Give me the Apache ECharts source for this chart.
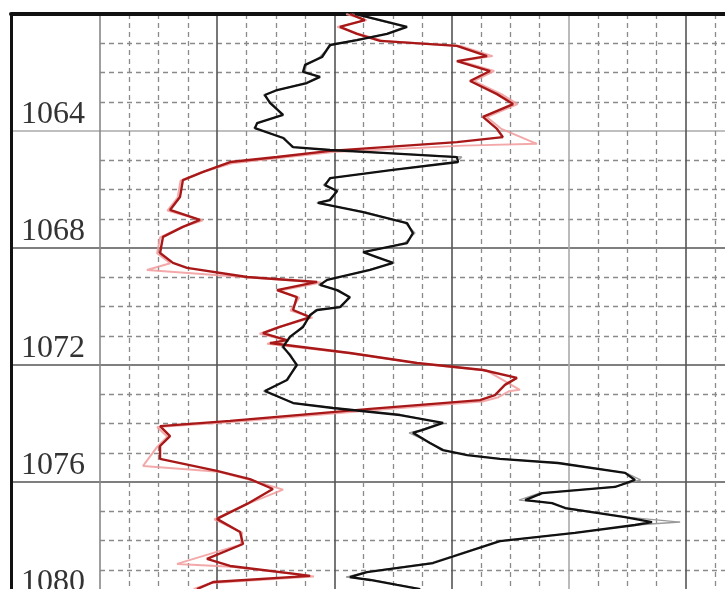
<!DOCTYPE html>
<html>
<head>
<meta charset="utf-8">
<script src="https://cdn.jsdelivr.net/npm/echarts@6/dist/echarts.min.js"></script>
<style>
html,body{margin:0;padding:0;background:#fff;}
#c{width:725px;height:589px;}
</style>
</head>
<body>
<div id="c"></div>
<script>
// Depth tick labels
var depthTicks = [1060, 1064, 1068, 1072, 1076, 1080];

// Black curve (value in grid-cell units, depth in m)
var blackValue = [8.70,9.11,10.48,9.80,8.77,7.85,7.58,7.00,6.93,7.51,7.06,6.04,5.63,5.80,6.25,5.36,5.29,6.25,6.59,7.85,9.66,12.18,12.22,10.00,7.85,7.68,8.09,7.85,7.44,8.98,10.48,10.68,10.48,8.98,9.45,10.00,9.22,7.75,7.51,8.09,8.53,8.19,7.41,7.17,6.93,6.48,6.25,6.48,6.72,6.38,5.63,6.59,7.95,10.24,11.71,11.02,10.68,11.26,11.71,12.53,13.65,15.63,17.92,18.26,17.58,15.09,14.51,15.43,15.87,17.92,18.84,18.26,16.21,13.65,11.37,9.11,8.53,9.22,10.14,10.92];
var blackDepth = [1060.00,1060.10,1060.44,1060.68,1060.89,1061.06,1061.47,1061.74,1061.98,1062.15,1062.36,1062.60,1062.77,1063.04,1063.45,1063.73,1063.90,1064.24,1064.55,1064.65,1064.75,1064.89,1065.06,1065.33,1065.61,1065.85,1066.05,1066.36,1066.46,1066.77,1067.15,1067.49,1067.83,1068.14,1068.31,1068.51,1068.75,1069.09,1069.26,1069.44,1069.68,1070.02,1070.12,1070.29,1070.70,1071.04,1071.38,1071.66,1072.00,1072.51,1072.89,1073.30,1073.47,1073.71,1073.98,1074.22,1074.32,1074.67,1074.91,1075.08,1075.21,1075.35,1075.69,1075.93,1076.17,1076.38,1076.62,1076.72,1076.89,1077.20,1077.37,1077.47,1077.74,1078.02,1078.77,1079.08,1079.25,1079.35,1079.52,1079.66];

// Gray companion of the black curve
var grayValue = [8.60,9.05,10.40,9.75,8.70,7.90,7.50,7.05,6.98,7.45,7.00,6.10,5.58,5.85,6.20,5.40,5.25,6.30,6.55,7.90,9.70,12.35,12.15,9.95,7.90,7.62,8.12,7.80,7.40,9.05,10.42,10.75,10.40,9.05,9.40,10.05,9.15,7.80,7.45,8.15,8.48,8.25,7.35,7.22,6.88,6.52,6.20,6.52,6.68,6.42,5.58,6.62,8.00,10.30,11.65,10.95,10.55,11.30,11.65,12.60,13.70,15.70,17.95,18.45,17.50,15.00,14.30,15.40,15.95,17.98,19.80,18.30,16.15,13.60,11.30,9.05,8.40,9.30,10.20,10.95];
var grayDepth = blackDepth;

// Dark red curve
var redValue = [8.53,9.04,8.19,8.77,9.56,12.18,13.21,12.18,13.31,12.63,13.55,14.10,13.07,13.55,13.75,12.18,7.85,6.04,4.44,3.52,2.83,2.73,2.39,3.41,2.83,2.15,2.05,2.49,2.97,5.02,7.41,6.04,6.72,6.59,7.17,6.14,5.56,6.38,5.80,8.53,10.82,13.07,14.23,13.82,13.48,12.97,9.22,4.44,2.05,2.39,2.05,2.05,3.99,5.12,5.90,5.02,3.99,4.78,4.88,3.65,4.44,6.72,7.17,3.86,3.31];
var redDepth = [1060.00,1060.21,1060.44,1060.68,1060.92,1061.09,1061.44,1061.61,1061.95,1062.29,1062.74,1063.08,1063.52,1063.93,1064.21,1064.38,1064.68,1064.89,1065.06,1065.40,1065.68,1066.26,1066.70,1067.04,1067.28,1067.62,1068.17,1068.51,1068.68,1068.99,1069.16,1069.44,1069.68,1070.12,1070.36,1070.70,1070.91,1071.15,1071.25,1071.59,1071.93,1072.17,1072.44,1072.68,1073.03,1073.20,1073.50,1073.91,1074.09,1074.43,1074.77,1075.21,1075.62,1075.90,1076.24,1076.75,1077.26,1077.71,1078.12,1078.63,1078.87,1079.15,1079.21,1079.42,1079.66];

// Light red companion curve
var pinkValue = [8.40,9.10,8.10,8.85,9.70,12.30,13.40,12.30,13.45,12.75,13.70,14.25,13.20,13.70,14.91,12.40,7.95,6.10,4.50,3.45,2.75,2.65,2.30,3.50,2.75,2.05,1.95,2.40,1.60,5.10,7.55,6.10,6.80,6.50,7.25,6.05,5.45,6.45,5.70,8.60,10.90,13.20,14.33,13.95,13.60,13.05,9.30,4.50,1.95,2.30,1.95,1.47,4.05,5.20,6.25,4.95,3.90,4.85,4.80,2.63,4.50,6.85,7.30,3.80,3.20];
var pinkDepth = [1060.00,1060.21,1060.44,1060.68,1060.92,1061.09,1061.44,1061.61,1061.95,1062.29,1062.74,1063.08,1063.52,1063.93,1064.44,1064.50,1064.72,1064.92,1065.10,1065.42,1065.70,1066.28,1066.72,1067.06,1067.30,1067.64,1068.18,1068.52,1068.75,1069.01,1069.18,1069.46,1069.70,1070.14,1070.38,1070.72,1070.93,1071.17,1071.27,1071.61,1071.95,1072.19,1072.85,1072.90,1073.10,1073.25,1073.55,1073.95,1074.12,1074.45,1074.80,1075.45,1075.65,1075.95,1076.26,1076.78,1077.28,1077.73,1078.14,1078.80,1078.90,1079.17,1079.23,1079.45,1079.66];

function pairs(xs, ys){ return xs.map(function(v,i){ return [v, ys[i]]; }); }

var chart = echarts.init(document.getElementById('c'), null, {renderer:'canvas'});

var dashStyle = {type:[5,4], color:'#8a8a8a', width:1.3};
var hLineColors = ['#555','#aaa','#555','#555','#555','#555'];

chart.setOption({
  backgroundColor:'#ffffff',
  animation:false,
  grid:[
    {left:11, top:14, width:89, height:585, outerBoundsMode:'none'},
    {left:100, top:14, width:703.2, height:585, outerBoundsMode:'none'}
  ],
  xAxis:[
    {gridIndex:0, type:'value', min:0, max:1, position:'top',
     axisLine:{show:true, lineStyle:{color:'#111', width:4}},
     axisTick:{show:false}, axisLabel:{show:false}, splitLine:{show:false}},
    {gridIndex:1, type:'value', min:0, max:24, interval:4, position:'top',
     axisLine:{show:true, onZero:false, lineStyle:{color:'#111', width:4}},
     axisTick:{show:false}, axisLabel:{show:false},
     splitLine:{show:true, lineStyle:{color:['#888','#555','#555','#555','#aaa','#555','#555'], width:1.6}},
     minorTick:{show:false, splitNumber:4},
     minorSplitLine:{show:true, lineStyle:dashStyle}}
  ],
  yAxis:[
    {gridIndex:0, type:'value', inverse:true, min:depthTicks[0], max:depthTicks[depthTicks.length-1], interval:4,
     axisLine:{show:true, onZero:false, lineStyle:{color:'#111', width:3}},
     axisTick:{show:false},
     axisLabel:{show:true, inside:true, margin:10, showMinLabel:false, showMaxLabel:true,
       verticalAlign:'bottom', fontSize:32, fontFamily:'Liberation Serif', color:'#333',
       formatter:function(v){ return String(v); }},
     splitLine:{show:true, lineStyle:{color:hLineColors, width:1.6}}},
    {gridIndex:1, type:'value', inverse:true, min:depthTicks[0], max:depthTicks[depthTicks.length-1], interval:4,
     axisLine:{show:false}, axisTick:{show:false}, axisLabel:{show:false},
     splitLine:{show:true, lineStyle:{color:hLineColors, width:1.6}},
     minorTick:{show:false, splitNumber:4},
     minorSplitLine:{show:true, lineStyle:dashStyle}}
  ],
  series:[
    {type:'line', xAxisIndex:1, yAxisIndex:1, data:pairs(pinkValue, pinkDepth), showSymbol:false, symbol:'none',
     lineStyle:{color:'#f19a9a', width:2, opacity:0.85}, z:2},
    {type:'line', xAxisIndex:1, yAxisIndex:1, data:pairs(grayValue, grayDepth), showSymbol:false, symbol:'none',
     lineStyle:{color:'#9a9a9a', width:1.4}, z:3},
    {type:'line', xAxisIndex:1, yAxisIndex:1, data:pairs(redValue, redDepth), showSymbol:false, symbol:'none',
     lineStyle:{color:'#a81818', width:2.4}, z:4},
    {type:'line', xAxisIndex:1, yAxisIndex:1, data:pairs(blackValue, blackDepth), showSymbol:false, symbol:'none',
     lineStyle:{color:'#111111', width:2.3}, z:5}
  ]
});
</script>
</body>
</html>
